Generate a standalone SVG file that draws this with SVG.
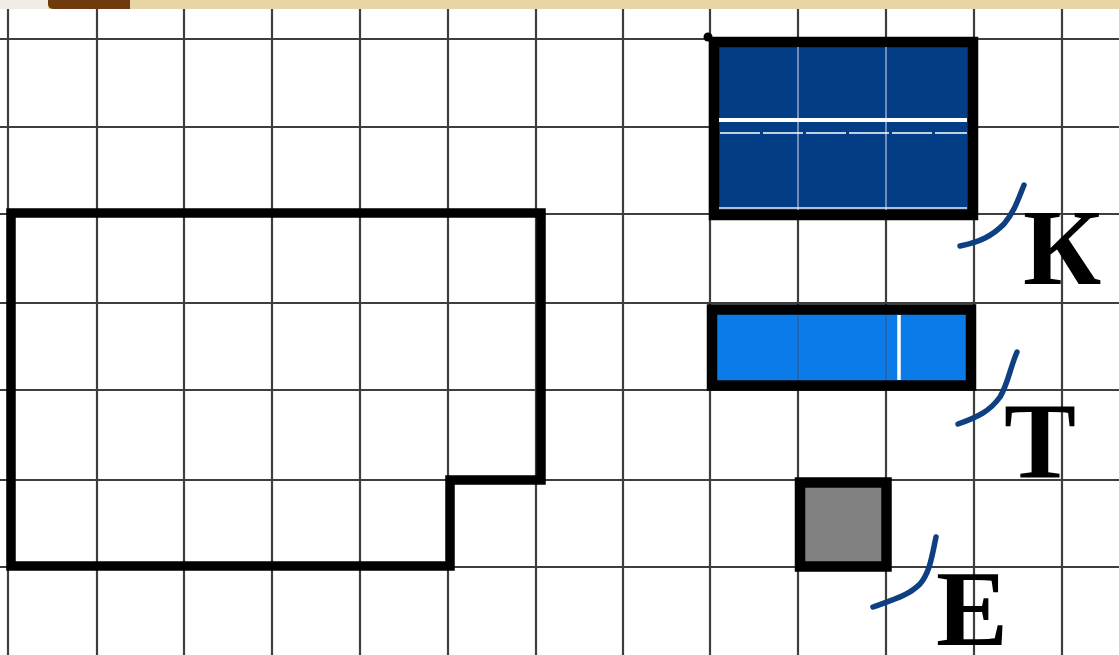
<svg xmlns="http://www.w3.org/2000/svg" width="1119" height="655" viewBox="0 0 1119 655">
<style>
.gv{stroke:#3e3e3e;stroke-width:2.2}
.gh{stroke:#3e3e3e;stroke-width:1.8}
.thick{fill:none;stroke:#000;stroke-width:9.5;stroke-linejoin:miter}
.frame{stroke:#000;stroke-width:10.5}
.tick{fill:none;stroke:#0d3f82;stroke-width:5.5;stroke-linecap:round;stroke-linejoin:round}
.letter{font-family:"Liberation Serif","Times New Roman",serif;font-weight:bold;font-size:108px;fill:#000}
.inner{stroke-width:1.6}
</style>
<rect x="0" y="0" width="1119" height="655" fill="#fff"/>
<g id="banner">
<rect x="0" y="0" width="1119" height="9" fill="#e8d5a6"/>
<rect x="0" y="0" width="48" height="9" fill="#f1ede4"/>
<path d="M50,0 H130 V9 H54 Q48,9 48,4 V0 Z" fill="#6e3a0e"/>
</g>
<g id="grid">
<g class="gv">
<line x1="8" y1="9" x2="8" y2="655"/>
<line x1="97" y1="9" x2="97" y2="655"/>
<line x1="184" y1="9" x2="184" y2="655"/>
<line x1="272" y1="9" x2="272" y2="655"/>
<line x1="360" y1="9" x2="360" y2="655"/>
<line x1="448" y1="9" x2="448" y2="655"/>
<line x1="536" y1="9" x2="536" y2="655"/>
<line x1="623" y1="9" x2="623" y2="655"/>
<line x1="710" y1="9" x2="710" y2="655"/>
<line x1="798" y1="9" x2="798" y2="655"/>
<line x1="886" y1="9" x2="886" y2="655"/>
<line x1="974" y1="9" x2="974" y2="655"/>
<line x1="1062" y1="9" x2="1062" y2="655"/>
</g>
<g class="gh">
<line x1="0" y1="39" x2="1119" y2="39"/>
<line x1="0" y1="127" x2="1119" y2="127"/>
<line x1="0" y1="214" x2="1119" y2="214"/>
<line x1="0" y1="303" x2="1119" y2="303"/>
<line x1="0" y1="390" x2="1119" y2="390"/>
<line x1="0" y1="480" x2="1119" y2="480"/>
<line x1="0" y1="567" x2="1119" y2="567"/>
</g>
</g>
<g id="figure">
<path class="thick" d="M11,213 H541 V480 H450 V566 H11 Z"/>
</g>
<g id="rect-K">
<rect x="714" y="42" width="259" height="173" fill="#033d85" class="frame"/>
<line x1="798" y1="47" x2="798" y2="210" stroke="#8fa3c4" class="inner"/>
<line x1="886" y1="47" x2="886" y2="210" stroke="#8fa3c4" class="inner"/>
<line x1="719" y1="120" x2="967" y2="120" stroke="#fff" stroke-width="4"/>
<line x1="720" y1="133" x2="967" y2="133" stroke="#fff" stroke-width="1.6" stroke-dasharray="40,3"/>
<line x1="719" y1="208" x2="967" y2="208" stroke="#e6ecf4" stroke-width="1.6"/>
<circle cx="708" cy="37" r="4.5" fill="#000"/>
</g>
<g id="rect-T">
<rect x="712" y="309.5" width="259" height="76" fill="#0b7be9" class="frame"/>
<line x1="798" y1="315" x2="798" y2="380" stroke="#2a5fa8" class="inner"/>
<line x1="886" y1="315" x2="886" y2="380" stroke="#2a5fa8" class="inner"/>
<line x1="899" y1="315" x2="899" y2="380" stroke="#fff" stroke-width="3.5"/>
</g>
<g id="square-E">
<rect x="800" y="482.5" width="86.5" height="84" fill="#818181" class="frame"/>
</g>
<g id="ticks">
<path class="tick" d="M960,246 C980,242 992,236 1004,224 C1014,212 1018,200 1024,185"/>
<path class="tick" d="M958,424 C978,417 990,411 1000,397 C1008,384 1010,368 1017,352"/>
<path class="tick" d="M873,607 C892,600 908,596 920,584 C930,572 932,556 936,537"/>
</g>
<g id="labels">
<text class="letter" x="1023" y="284">К</text>
<text class="letter" x="1004" y="477">Т</text>
<text class="letter" x="936" y="645">Е</text>
</g>
</svg>
